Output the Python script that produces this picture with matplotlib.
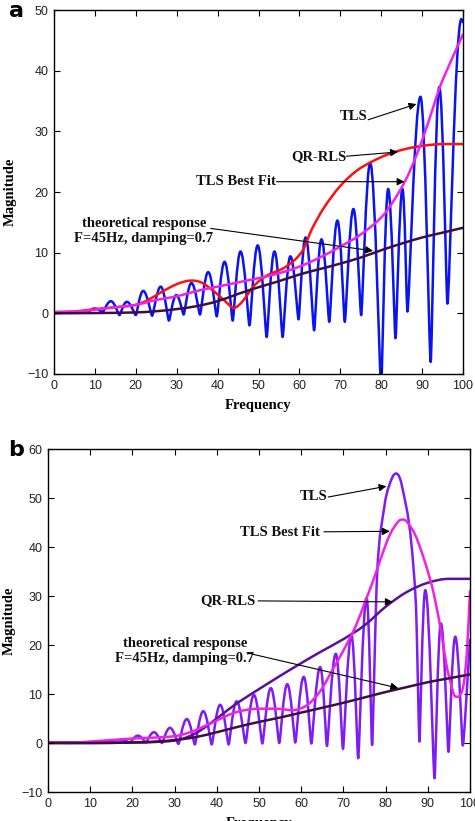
import matplotlib
matplotlib.use('Agg')
import matplotlib.pyplot as plt
from matplotlib.path import Path
from matplotlib.patches import PathPatch

# ---- panel a data ----
tls_a_x = [0, 4, 8, 9.9, 11.9, 13.9, 16.0, 17.8, 20.0, 21.8, 24.0, 26.1, 28.1, 29.9, 31.7,
           33.6, 35.7, 37.7, 39.8, 41.7, 43.7, 45.6, 47.8, 49.8, 52.0, 53.9, 55.9, 57.8,
           59.8, 61.5, 63.6, 65.4, 67.3, 69.3, 71.1, 73.2, 75.1, 77.3, 80.0, 81.7, 83.5,
           85.2, 86.4, 89.6, 92.1, 94.2, 96.2, 99.6, 100]
tls_a_y = [0.2, 0.2, 0.1, 0.8, 0.2, 2.0, -0.3, 1.9, -0.3, 3.7, -0.4, 4.4, -1.2, 3.0, -0.2,
           5.0, -0.2, 6.8, -0.5, 8.5, -1.2, 10.2, -2.0, 11.2, -3.9, 10.2, -3.9, 9.4,
           -1.0, 12.5, -2.8, 12.2, -1.4, 15.3, -1.4, 17.2, -0.3, 24.8, -12.0, 20.5, -4.1,
           20.5, 0.3, 35.7, -8.0, 37.3, 1.6, 48.5, 48.0]

qr_a_x = [0, 5, 10, 15, 20, 23, 26, 30, 33.5, 36, 39, 42, 44, 46, 49, 52, 56, 59, 61, 63,
          66, 70, 74, 78, 82, 86, 90, 95, 100]
qr_a_y = [0.2, 0.3, 0.7, 1.0, 1.4, 2.2, 3.4, 4.8, 5.4, 5.1, 3.7, 1.9, 0.9, 1.9, 4.6, 6.2,
          7.4, 8.9, 10.6, 13.8, 17.4, 21.0, 23.5, 25.1, 26.3, 27.1, 27.6, 27.9, 27.9]

fit_a_x = [0, 6, 10, 15, 20, 25, 30, 35, 40, 45, 50, 55, 60, 65, 70, 75, 80, 83, 86, 88,
           90.3, 92.5, 94.4, 97, 100]
fit_a_y = [0.2, 0.3, 0.6, 1.0, 1.4, 2.2, 2.8, 3.7, 4.4, 5.1, 5.8, 6.6, 7.7, 9.2, 11.0,
           13.0, 15.8, 18.5, 22.0, 25.0, 29.1, 33.5, 37.4, 41.5, 46.0]

theory_a_x = [0, 10, 20, 25, 30, 35, 40, 45, 50, 55, 60, 65, 70, 75, 80, 85, 90, 95, 100]
theory_a_y = [0.0, 0.05, 0.15, 0.35, 0.7, 1.2, 2.0, 3.2, 4.3, 5.3, 6.4, 7.3, 8.2, 9.2,
              10.4, 11.5, 12.5, 13.3, 14.1]

# ---- panel b data ----
tls_b_x = [0, 12, 17.5, 19.4, 21.3, 23.2, 25.1, 27.0, 28.9, 30.9, 32.9, 34.8, 36.8, 38.8,
           40.8, 42.8, 44.7, 46.8, 48.8, 50.8, 52.8, 54.8, 56.7, 58.6, 60.6, 62.4, 64.5,
           66.1, 68.2, 69.9, 71.9, 73.5, 75.5, 76.8, 78.0, 79.7, 80.8, 82.5, 84.9, 86.1,
           87.2, 87.6, 88.0, 89.4, 91.6, 93.1, 94.9, 96.5, 98.3, 100]
tls_b_y = [0.1, 0.1, 0.6, 0.1, 1.5, 0.1, 2.2, 0.0, 3.1, -0.2, 4.9, -0.3, 6.5, -0.3,
           7.8, -0.3, 8.5, 0.0, 9.8, -0.1, 11.2, 0.0, 12.0, 0.1, 13.5, -0.1, 15.5,
           -0.6, 18.2, -1.2, 22.0, -3.1, 29.6, -0.4, 34.6, 48.2, 52.4, 55.0, 48.2, 40.7,
           27.9, 14.3, 0.3, 31.2, -7.2, 24.4, -1.8, 21.7, -0.5, 21.0]

qr_b_x = [0, 10, 20, 25, 30, 33, 36, 40, 43, 46, 50, 55, 60, 65, 70, 75, 80, 85, 90, 95, 100]
qr_b_y = [0.0, 0.0, 0.1, 0.2, 0.5, 1.2, 2.5, 5.0, 7.0, 8.8, 11.0, 13.7, 16.3, 18.8, 21.2,
          24.0, 27.8, 30.8, 32.7, 33.5, 33.5]

fit_b_x = [0, 5, 10, 15, 20, 25, 30, 33, 36, 38, 40, 43, 46, 50, 54, 58, 61, 63, 65, 67,
           69, 71, 73, 75, 77, 79, 81, 83, 84, 85, 87, 89, 91, 92, 93, 94.5, 95.5, 96.5,
           97.5, 98.5, 99.3, 100]
fit_b_y = [0.2, 0.0, 0.3, 0.6, 0.9, 1.1, 1.4, 2.0, 3.0, 3.8, 4.6, 5.8, 6.6, 7.0, 7.0, 6.7,
           7.5, 9.0, 11.2, 14.3, 17.3, 20.5, 24.0, 28.5, 33.0, 38.0, 42.5, 45.2, 45.6, 45.2,
           42.5, 37.8, 32.0, 28.0, 23.5, 15.6, 12.0, 9.5, 9.6, 12.0, 19.0, 31.0]

theory_b_x = [0, 10, 20, 25, 30, 35, 40, 45, 50, 55, 60, 65, 70, 75, 80, 85, 90, 95, 100]
theory_b_y = [0.0, 0.0, 0.1, 0.25, 0.6, 1.2, 2.2, 3.3, 4.3, 5.2, 6.2, 7.2, 8.2, 9.3, 10.4,
              11.4, 12.4, 13.2, 14.0]

SERIF = 'Liberation Serif'
SANS = 'Liberation Sans'


def smooth_path(x, y, trough_handle=1 / 3., peak_handle=1 / 3.):
    """ cubic hermite path through the listed points, flat at local extrema """
    n = len(x)
    slope, hand = [], []
    for i in range(n):
        if i == 0 or i == n - 1:
            j0, j1 = max(i - 1, 0), min(i + 1, n - 1)
            slope.append((y[j1] - y[j0]) / (x[j1] - x[j0]))
            hand.append(1 / 3.)
            continue
        up, dn = y[i] - y[i - 1], y[i + 1] - y[i]
        if up * dn <= 0:
            slope.append(0.)
            hand.append(peak_handle if up > 0 else trough_handle)
        else:
            slope.append((y[i + 1] - y[i - 1]) / (x[i + 1] - x[i - 1]))
            hand.append(1 / 3.)
    verts, codes = [(x[0], y[0])], [Path.MOVETO]
    for i in range(1, n):
        dx = x[i] - x[i - 1]
        h0, h1 = hand[i - 1] * dx, hand[i] * dx
        verts += [(x[i - 1] + h0, y[i - 1] + slope[i - 1] * h0),
                  (x[i] - h1, y[i] - slope[i] * h1),
                  (x[i], y[i])]
        codes += [Path.CURVE4] * 3
    return Path(verts, codes)


def draw(ax, x, y, color, lw=1.8, **kw):
    ax.add_patch(PathPatch(smooth_path(x, y, **kw), fill=False, edgecolor=color,
                           linewidth=lw, capstyle='round', joinstyle='round'))


def style(ax, ymin, ymax, ylabel_x):
    ax.set_xlim(0, 100)
    ax.set_ylim(ymin, ymax)
    ax.set_xticks(range(0, 101, 10))
    ax.set_yticks(range(ymin, ymax + 1, 10))
    ax.tick_params(direction='in', top=True, right=True, length=4, width=0.8,
                   labelsize=9, labelcolor='#222222', pad=4)
    for lab in ax.get_xticklabels() + ax.get_yticklabels():
        lab.set_family(SANS)
    for sp in ax.spines.values():
        sp.set_linewidth(1.0)
    ax.set_xlabel('Frequency', family=SERIF, weight='bold', fontsize=10.5, labelpad=5)
    ax.set_ylabel('Magnitude', family=SERIF, weight='bold', fontsize=10.5)
    # right edge of the rotated label, in axes fraction
    ax.yaxis.set_label_coords(ylabel_x, 0.5)


def note(ax, text, xy_text, start, tip, ha='center'):
    ax.text(xy_text[0], xy_text[1], text, family=SERIF, weight='bold', fontsize=10.5,
            ha=ha, va='center', linespacing=1.25, color='#111111')
    ax.annotate('', xy=tip, xytext=start,
                arrowprops=dict(arrowstyle='-|>', color='k', lw=0.8,
                                mutation_scale=11, shrinkA=0, shrinkB=0))


fig = plt.figure(figsize=(4.75, 8.21), dpi=100)

# ---------------- panel a ----------------
ax_a = fig.add_axes([54 / 475., 1 - 374 / 821., 409 / 475., 364 / 821.])
style(ax_a, -10, 50, -0.090)
draw(ax_a, tls_a_x, tls_a_y, '#0a14f0', trough_handle=0.15, peak_handle=0.45)
draw(ax_a, qr_a_x, qr_a_y, '#ff1010')
draw(ax_a, fit_a_x, fit_a_y, '#ee22ee')
draw(ax_a, theory_a_x, theory_a_y, '#3d0f3f')

note(ax_a, 'TLS', (73.2, 32.4), (76.8, 31.9), (88.6, 34.5))
note(ax_a, 'QR-RLS', (64.8, 25.8), (71.5, 25.9), (84.1, 26.6))
note(ax_a, 'TLS Best Fit', (44.5, 21.7), (54.4, 21.7), (85.7, 21.7))
note(ax_a, 'theoretical response\nF=45Hz, damping=0.7', (22.0, 13.6), (38.3, 14.0), (78.0, 10.3))

# ---------------- panel b ----------------
ax_b = fig.add_axes([48 / 475., 1 - 792 / 821., 422 / 475., 343 / 821.])
style(ax_b, -10, 60, -0.076)
draw(ax_b, tls_b_x, tls_b_y, '#7f1cf5', trough_handle=0.15, peak_handle=0.45)
draw(ax_b, qr_b_x, qr_b_y, '#5a0f9e')
draw(ax_b, fit_b_x, fit_b_y, '#f020e8')
draw(ax_b, theory_b_x, theory_b_y, '#3d0f3f')

note(ax_b, 'TLS', (63.0, 50.3), (66.4, 50.2), (80.2, 52.4))
note(ax_b, 'TLS Best Fit', (55.0, 43.0), (65.4, 43.1), (81.0, 43.2))
note(ax_b, 'QR-RLS', (42.6, 29.0), (49.8, 29.0), (81.7, 28.8))
note(ax_b, 'theoretical response\nF=45Hz, damping=0.7', (32.4, 18.8), (47.1, 18.4), (83.0, 11.2))

fig.text(16 / 475., 1 - 11 / 821., 'a', family='DejaVu Sans', weight='bold',
         fontsize=16, ha='center', va='center')
fig.text(16 / 475., 1 - 450 / 821., 'b', family='DejaVu Sans', weight='bold',
         fontsize=16, ha='center', va='center')

fig.savefig('out.png', dpi=100)
